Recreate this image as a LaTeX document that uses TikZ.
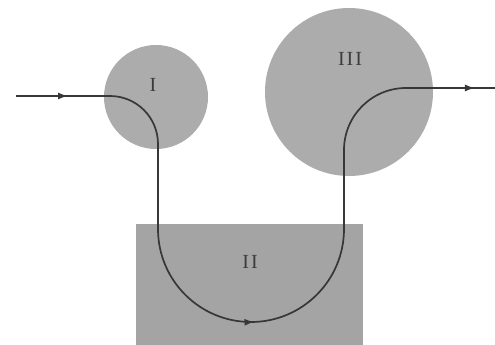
\documentclass[tikz,border=0pt]{standalone}
\usepackage{fontspec}
\setmainfont{Liberation Serif}
\usetikzlibrary{arrows.meta,decorations.markings}
\definecolor{zonefill}{RGB}{172,172,172}
\definecolor{boxfill}{RGB}{164,164,164}
\definecolor{pathcol}{RGB}{55,55,55}
\definecolor{labcol}{RGB}{60,60,60}
\begin{document}
\begin{tikzpicture}[x=1pt,y=1pt,
  zone/.style={circle,fill=zonefill,draw=none,inner sep=0pt},
  zonebox/.style={rectangle,fill=boxfill,draw=none,inner sep=0pt,anchor=south west},
  zonelabel/.style={text=labcol,font=\fontsize{20}{20}\selectfont,inner sep=0pt},
  flow/.style={draw=pathcol,line width=1.7pt,
    postaction={decorate},
    decoration={markings,
      mark=at position 52pt with {\arrow{Latex[length=10pt,width=7pt]}},
      mark=at position 404pt with {\arrow{Latex[length=10pt,width=7pt]}},
      mark=at position 792pt with {\arrow{Latex[length=10pt,width=7pt]}}}}]
\useasboundingbox (0,0) rectangle (495,345);
\node[zone,minimum size=104pt] (I) at (156,248) {};
\node[zone,minimum size=168pt] (III) at (349,253) {};
\node[zonebox,minimum width=227pt,minimum height=121pt] (II) at (136,0) {};
\node[zonelabel] (lI) at (153,260) {I};
\node[zonelabel] (lII) at (250,83) {I\kern2pt I};
\node[zonelabel] (lIII) at (350,286) {I\kern2pt I\kern2pt I};
\coordinate (start) at (16,249);
\coordinate (finish) at (495,257);
\path[flow] (start) -- (110,249) arc[start angle=90,end angle=0,radius=48]
  -- (158,116) arc[start angle=180,end angle=360,radius=93]
  -- (344,195) arc[start angle=180,end angle=90,radius=62]
  -- (finish);
\end{tikzpicture}
\end{document}
